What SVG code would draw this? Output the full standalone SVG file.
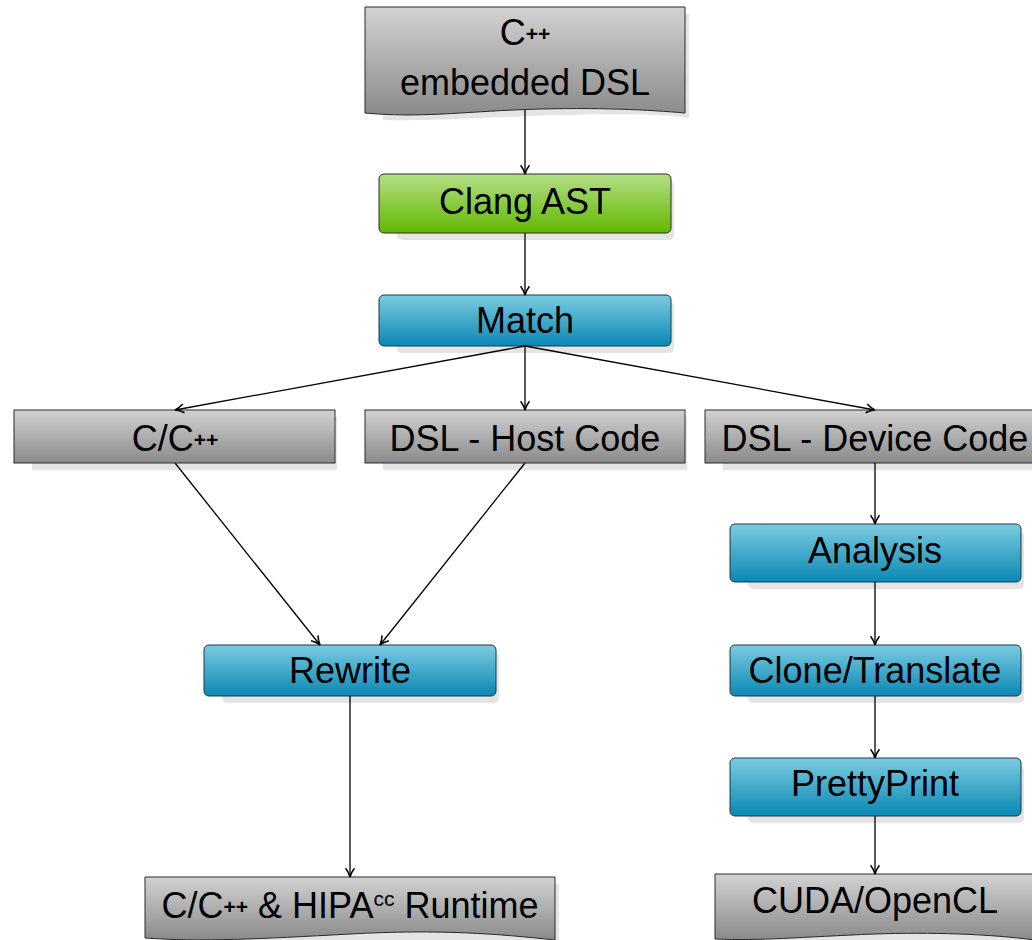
<svg xmlns="http://www.w3.org/2000/svg" width="1032" height="940" viewBox="0 0 1032 940">
<defs>
<linearGradient id="gGray" x1="0" y1="0" x2="0" y2="1"><stop offset="0" stop-color="#d2d2d2"/><stop offset="1" stop-color="#8a8a8a"/></linearGradient>
<linearGradient id="gGreen" x1="0" y1="0" x2="0" y2="1"><stop offset="0" stop-color="#b4de86"/><stop offset="1" stop-color="#62b800"/></linearGradient>
<linearGradient id="gBlue" x1="0" y1="0" x2="0" y2="1"><stop offset="0" stop-color="#7ccbe0"/><stop offset="1" stop-color="#0a88b4"/></linearGradient>
<marker id="arr" viewBox="0 0 10 10" refX="9" refY="5" markerWidth="11" markerHeight="11" markerUnits="userSpaceOnUse" orient="auto">
<path d="M1,1 Q5,4 9,5 Q5,6 1,9" fill="none" stroke="#000" stroke-width="1.4"/>
</marker>
<style>
.shadow{fill:#e4e4e4}
.gray{fill:url(#gGray);stroke:#2a2a2a;stroke-width:1}
.green{fill:url(#gGreen);stroke:#2a2a2a;stroke-width:1}
.blue{fill:url(#gBlue);stroke:#1a3a4a;stroke-width:1}
.t{font-family:"Liberation Sans",Arial,sans-serif;font-size:36px;fill:#000;text-anchor:middle}
.sup{font-size:21px}
.pp{font-size:21px;font-weight:bold}
.conn path{fill:none;stroke:#000;stroke-width:1.3;marker-end:url(#arr)}
</style>
</defs>

<g id="n-dsl">
<path class="shadow" d="M383,14 H689 V118 C660,114 620,113 530,116 C460,119 420,121 383,120 Z"/>
<path class="gray" d="M365,7 H685 V113 C650,110 600,107 525,109.5 C460,112 420,118 365,113 Z"/>
<text class="t" x="525" y="45">C<tspan class="pp" dy="-4">++</tspan></text>
<text class="t" x="525" y="95">embedded DSL</text>
</g>

<g id="n-clang">
<rect class="shadow" x="397" y="181" width="277" height="59" rx="5"/>
<rect class="green" x="379" y="174" width="292" height="59" rx="5"/>
<text class="t" x="525" y="214">Clang AST</text>
</g>

<g id="n-match">
<rect class="shadow" x="397" y="302" width="277" height="51" rx="5"/>
<rect class="blue" x="379" y="295" width="292" height="51" rx="5"/>
<text class="t" x="525" y="333">Match</text>
</g>

<g id="n-cc">
<rect class="shadow" x="32" y="417" width="305" height="53"/>
<rect class="gray" x="14" y="410" width="321" height="53"/>
<text class="t" x="175" y="451">C/C<tspan class="pp" dy="-4">++</tspan></text>
</g>

<g id="n-host">
<rect class="shadow" x="383" y="417" width="304" height="53"/>
<rect class="gray" x="365" y="410" width="320" height="53"/>
<text class="t" x="525" y="451">DSL - Host Code</text>
</g>

<g id="n-device">
<rect class="shadow" x="723" y="417" width="324" height="53"/>
<rect class="gray" x="705" y="410" width="340" height="53"/>
<text class="t" x="875" y="451">DSL - Device Code</text>
</g>

<g id="n-analysis">
<rect class="shadow" x="748" y="531" width="276" height="58" rx="5"/>
<rect class="blue" x="730" y="524" width="291" height="58" rx="5"/>
<text class="t" x="875" y="563">Analysis</text>
</g>

<g id="n-clone">
<rect class="shadow" x="748" y="652" width="276" height="51" rx="5"/>
<rect class="blue" x="730" y="645" width="291" height="51" rx="5"/>
<text class="t" x="875" y="683">Clone/Translate</text>
</g>

<g id="n-pretty">
<rect class="shadow" x="748" y="765" width="276" height="58" rx="5"/>
<rect class="blue" x="730" y="758" width="291" height="58" rx="5"/>
<text class="t" x="875" y="796">PrettyPrint</text>
</g>

<g id="n-rewrite">
<rect class="shadow" x="222" y="652" width="277" height="51" rx="5"/>
<rect class="blue" x="204" y="645" width="292" height="51" rx="5"/>
<text class="t" x="350" y="683">Rewrite</text>
</g>

<g id="n-runtime">
<path class="shadow" d="M163,884 H559 V945 H163 Z"/>
<path class="gray" d="M145,877 H555 V940 C500,934 440,929 350,934 C260,939 200,942 145,938 Z"/>
<text class="t" x="350" y="918">C/C<tspan class="pp" dy="-4">++</tspan><tspan dy="4"> &amp; HIPA</tspan><tspan class="sup" dy="-12">cc</tspan><tspan dy="12"> Runtime</tspan></text>
</g>

<g id="n-cuda">
<path class="shadow" d="M733,881 H1049 V945 H733 Z"/>
<path class="gray" d="M715,874 H1035 V940 C990,934 930,932 875,934 C800,937 760,941 715,939 Z"/>
<text class="t" x="875" y="913">CUDA/OpenCL</text>
</g>

<g id="connectors" class="conn">
<path d="M525,110 V174"/>
<path d="M525,233 V295"/>
<path d="M525,346 L175,410"/>
<path d="M525,346 V410"/>
<path d="M525,346 L875,410"/>
<path d="M175,463 L320,645"/>
<path d="M525,463 L380,645"/>
<path d="M350,696 V877"/>
<path d="M875,463 V524"/>
<path d="M875,582 V645"/>
<path d="M875,696 V758"/>
<path d="M875,816 V874"/>
</g>
</svg>
